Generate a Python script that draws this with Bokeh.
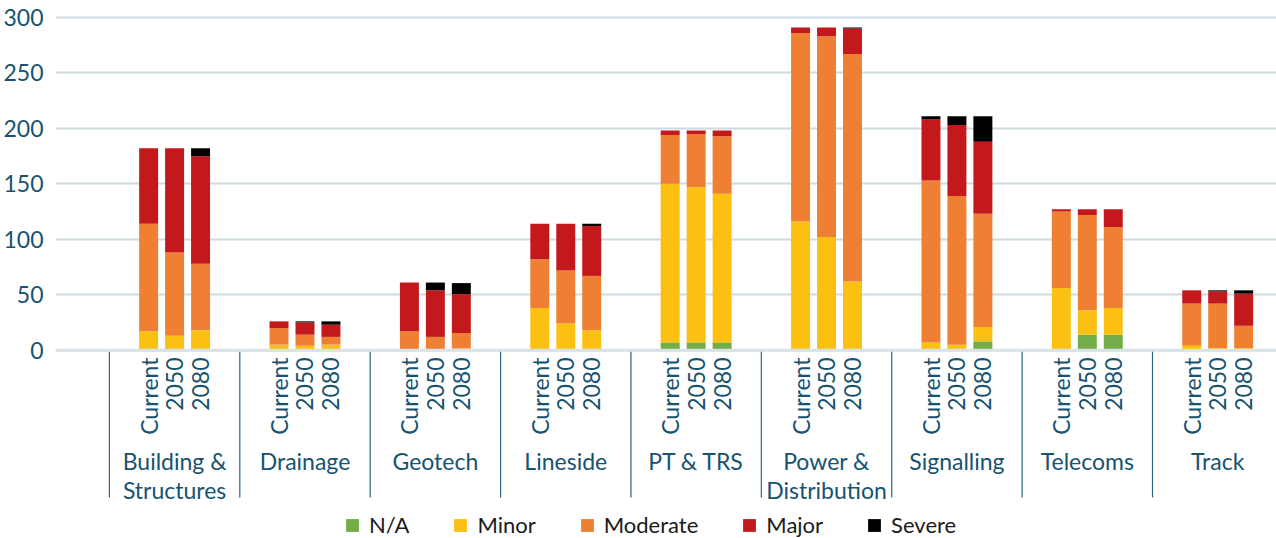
import math
from bokeh.plotting import figure
from bokeh.models import (ColumnDataSource, Range1d, FixedTicker, Legend, LegendItem, Span)
from bokeh.core.properties import value
from bokeh.embed import file_html
from bokeh.resources import INLINE

# ---------------- data ----------------
groups = ["Building &\nStructures", "Drainage", "Geotech", "Lineside", "PT & TRS",
          "Power &\nDistribution", "Signalling", "Telecoms", "Track"]
periods = ["Current", "2050", "2080"]
severities = ["N/A", "Minor", "Moderate", "Major", "Severe"]
colors = ["#72ad47", "#fcc013", "#ee7f33", "#c3181c", "#000000"]

# values ordered group by group, each with Current, 2050, 2080
na_vals = [0, 0, 0,   0, 0, 0,   0, 0, 0,   0, 0, 0,   7, 7, 7,
           0, 0, 0,   0, 0, 8,   0, 14, 14,  0, 0, 0]
minor_vals = [17, 13, 18,  5, 4, 5,   0, 0, 1.5,  38, 24, 18,  143, 140, 134,
              116, 102, 62,  7, 5, 13,  56, 22, 24,  4, 2, 2]
moderate_vals = [97, 75, 60,  15, 10, 7,  17, 12, 14,  44, 48, 49,  44, 48, 52,
                 170, 181, 205,  146, 134, 102,  69, 86, 73,  38, 40, 20]
major_vals = [68, 94, 97,  6, 11, 11,  44, 42, 35,  32, 42, 45,  4, 3, 5,
              5, 8, 23,  55, 64, 65,  2, 5, 16,  12, 11, 29]
severe_vals = [0, 0, 7,  0, 1, 3,  0, 7, 10,  0, 0, 2,  0, 0, 0,
               0, 0, 1,  3, 8, 23,  0, 0, 0,  0, 1, 3]
y_ticks = [0, 50, 100, 150, 200, 250, 300]

# ---------------- layout constants ----------------
W, H = 1276, 538
LEFT = 53
PX_PER_UNIT = (349.7 - 17) / 300.0
Y_TOP = 300 + 17 / PX_PER_UNIT
Y_BOT = -(H - 349.7) / PX_PER_UNIT
GROUP_PX = 130.6
X0 = -(107 - LEFT) / GROUP_PX
X1 = X0 + (W - LEFT) / GROUP_PX
OFF = 26 / GROUP_PX
BAR_W = 19 / GROUP_PX

TEXT = "#17536f"
FONT = "Lato"
FS = "23px"


def py(px):
    """screen pixel row -> data y"""
    return -(px - 349.7) / PX_PER_UNIT


xs, per_lbl = [], []
for gi, g in enumerate(groups):
    for pj, pr in enumerate(periods):
        xs.append(gi + 0.5 + (pj - 1) * OFF)
        per_lbl.append(pr)

src = ColumnDataSource(dict(x=xs, period=per_lbl, **{
    "N/A": na_vals, "Minor": minor_vals, "Moderate": moderate_vals,
    "Major": major_vals, "Severe": severe_vals}))

p = figure(width=W, height=H, output_backend="svg", toolbar_location=None,
           x_range=Range1d(X0, X1), y_range=Range1d(Y_BOT, Y_TOP),
           x_axis_location=None, y_axis_location="left",
           min_border_left=LEFT, min_border_right=0, min_border_top=0, min_border_bottom=0,
           background_fill_color="white", border_fill_color="white")
p.outline_line_color = None
p.xgrid.grid_line_color = None
p.yaxis.ticker = FixedTicker(ticks=y_ticks)
p.ygrid.ticker = FixedTicker(ticks=y_ticks)
p.ygrid.grid_line_color = "#cfdbe0"
p.ygrid.grid_line_width = 2
p.yaxis.axis_line_color = None
p.yaxis.major_tick_line_color = None
p.yaxis.minor_tick_line_color = None
p.yaxis.major_label_standoff = 6
p.yaxis.major_label_text_font = FONT
p.yaxis.major_label_text_font_size = FS
p.yaxis.major_label_text_color = TEXT

p.add_layout(Span(location=0, dimension="width", line_color="#d9e3e7", line_width=3))

rs = p.vbar_stack(severities, x="x", width=BAR_W, color=colors, line_color=None, source=src)

# period labels (rotated)
p.text(x="x", y=py(357), text="period", source=src, angle=math.pi / 2,
       text_align="right", text_baseline="middle", text_font=value(FONT),
       text_font_size=FS, text_color=TEXT)

# group separators
sep_x = list(range(len(groups) + 1))
p.segment(x0=sep_x, y0=[0] * len(sep_x), x1=sep_x, y1=[py(497)] * len(sep_x),
          line_color="#2a6482", line_width=1.2)

# group names (up to two lines)
line1 = [g.split("\n")[0] for g in groups]
line2 = [g.split("\n")[1] if "\n" in g else "" for g in groups]
gx = [i + 0.5 for i in range(len(groups))]
p.text(x=gx, y=[py(460)] * len(groups), text=line1, text_align="center",
       text_baseline="alphabetic", text_font=value(FONT), text_font_size=FS,
       text_color=TEXT)
p.text(x=gx, y=[py(489)] * len(groups), text=line2, text_align="center",
       text_baseline="alphabetic", text_font=value(FONT), text_font_size=FS,
       text_color=TEXT)

legend = Legend(items=[LegendItem(label=s, renderers=[r]) for s, r in zip(severities, rs)],
                orientation="horizontal", location=(289, 0),
                glyph_width=16, glyph_height=16, label_standoff=9, spacing=43,
                padding=0, margin=0, border_line_color=None, background_fill_alpha=0,
                label_text_font=FONT, label_text_font_size="22px",
                label_text_color="#1a1a1a")
p.add_layout(legend)

open("out.html", "w").write(file_html(p, INLINE))
